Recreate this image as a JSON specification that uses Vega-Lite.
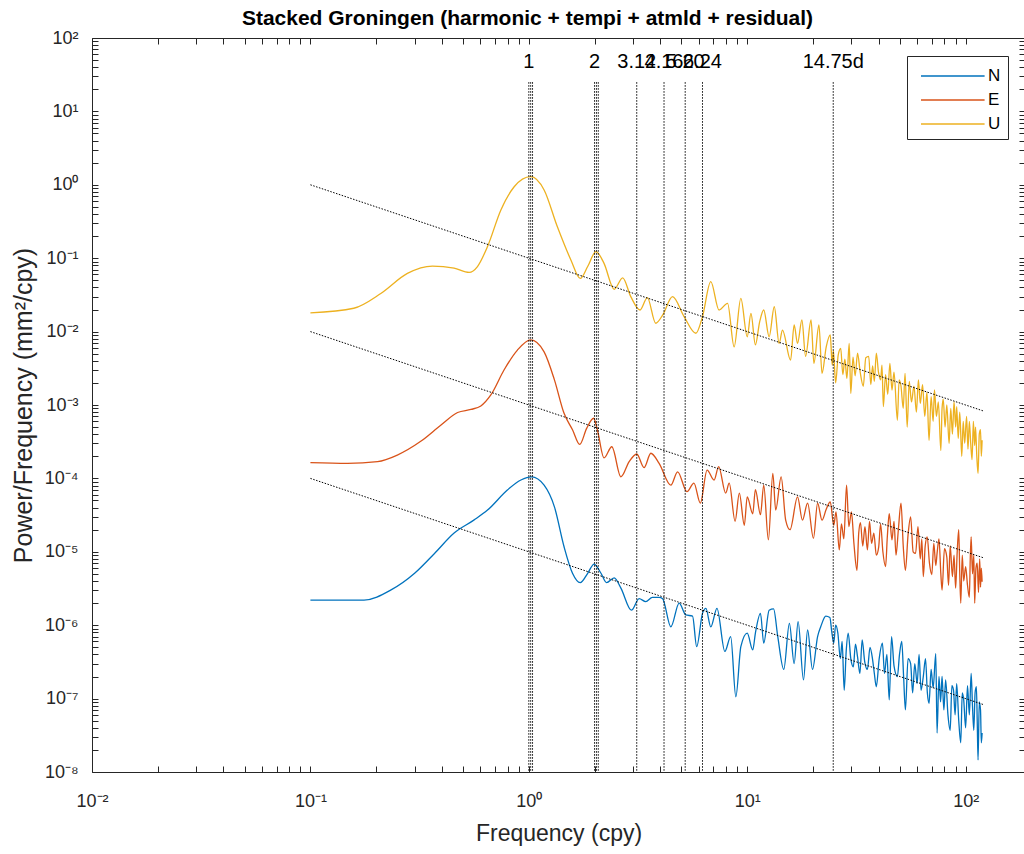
{
  "$schema": "https://vega.github.io/schema/vega-lite/v6.json",
  "width": 933,
  "height": 734,
  "autosize": {"type": "none"},
  "padding": {"left": 92, "top": 38, "right": 0, "bottom": 82},
  "background": "white",
  "title": {"text": "Stacked Groningen (harmonic + tempi + atmld + residual)", "font": "Liberation Sans", "fontSize": 21, "fontWeight": "bold", "color": "#000000", "anchor": "middle", "dx": -31, "offset": 0},
  "config": {
    "view": {"stroke": null},
    "axis": {"domainColor": "#262626", "tickColor": "#262626", "labelColor": "#262626", "titleColor": "#262626", "labelFont": "Liberation Sans", "titleFont": "Liberation Sans", "labelFontSize": 18, "titleFontSize": 23, "titleFontWeight": "normal", "grid": false, "tickSize": -6, "domainWidth": 1, "tickWidth": 1, "labelOverlap": false, "labelFlush": false}
  },
  "datasets": {
    "spectra": [
      {"f": 0.1, "p": 1.8e-2, "c": "U"}, {"f": 0.158, "p": 2.08e-2, "c": "U"}, {"f": 0.21, "p": 3.3e-2, "c": "U"}, {"f": 0.278, "p": 6.2e-2, "c": "U"}, {"f": 0.362, "p": 7.8e-2, "c": "U"}, {"f": 0.455, "p": 7.3e-2, "c": "U"}, {"f": 0.533, "p": 6.4e-2, "c": "U"}, {"f": 0.582, "p": 7.7e-2, "c": "U"}, {"f": 0.647, "p": 0.144, "c": "U"}, {"f": 0.745, "p": 0.454, "c": "U"}, {"f": 0.857, "p": 0.94, "c": "U"}, {"f": 1.02, "p": 1.29, "c": "U"}, {"f": 1.175, "p": 0.85, "c": "U"}, {"f": 1.35, "p": 0.27, "c": "U"}, {"f": 1.56, "p": 0.094, "c": "U"}, {"f": 1.72, "p": 0.053, "c": "U"}, {"f": 1.86, "p": 0.077, "c": "U"}, {"f": 2.03, "p": 0.123, "c": "U"}, {"f": 2.21, "p": 0.085, "c": "U"}, {"f": 2.46, "p": 0.0377, "c": "U"}, {"f": 2.69, "p": 0.054, "c": "U"}, {"f": 2.93, "p": 0.03, "c": "U"}, {"f": 3.23, "p": 0.0197, "c": "U"}, {"f": 3.49, "p": 0.029, "c": "U"}, {"f": 3.81, "p": 0.013, "c": "U"}, {"f": 4.1, "p": 0.0168, "c": "U"}, {"f": 4.55, "p": 0.03, "c": "U"}, {"f": 5.14, "p": 0.016, "c": "U"}, {"f": 5.82, "p": 0.0095, "c": "U"}, {"f": 6.24, "p": 0.016, "c": "U"}, {"f": 6.81, "p": 0.048, "c": "U"}, {"f": 7.43, "p": 0.0197, "c": "U"}, {"f": 8.13, "p": 0.0243, "c": "U"}, {"f": 8.71, "p": 0.0062, "c": "U"}, {"f": 9.35, "p": 0.0284, "c": "U"}, {"f": 10.0, "p": 0.0085, "c": "U"}, {"f": 10.4, "p": 0.0177, "c": "U"}, {"f": 10.9, "p": 0.0066, "c": "U"}, {"f": 11.4, "p": 0.0136, "c": "U"}, {"f": 11.9, "p": 0.0197, "c": "U"}, {"f": 12.6, "p": 0.0085, "c": "U"}, {"f": 13.3, "p": 0.0218, "c": "U"}, {"f": 14.0, "p": 0.0069, "c": "U"}, {"f": 14.5, "p": 0.0105, "c": "U"}, {"f": 15.8, "p": 0.0041, "c": "U"}, {"f": 16.4, "p": 0.0123, "c": "U"}, {"f": 17.0, "p": 0.0069, "c": "U"}, {"f": 17.8, "p": 0.0144, "c": "U"}, {"f": 18.5, "p": 0.0046, "c": "U"}, {"f": 19.6, "p": 0.0144, "c": "U"}, {"f": 20.2, "p": 0.0037, "c": "U"}, {"f": 21.3, "p": 0.0123, "c": "U"}, {"f": 22.0, "p": 0.0027, "c": "U"}, {"f": 23.0, "p": 0.0062, "c": "U"},
      {"f": 24.0, "p": 0.009, "c": "U"}, {"f": 24.5, "p": 0.0035, "c": "U"}, {"f": 24.8, "p": 0.0055, "c": "U"}, {"f": 25.4, "p": 0.002, "c": "U"}, {"f": 26.1, "p": 0.0048, "c": "U"}, {"f": 26.8, "p": 0.0059, "c": "U"}, {"f": 27.4, "p": 0.0026, "c": "U"}, {"f": 28.0, "p": 0.0042, "c": "U"}, {"f": 28.6, "p": 0.0023, "c": "U"}, {"f": 29.3, "p": 0.0069, "c": "U"}, {"f": 29.8, "p": 0.00144, "c": "U"}, {"f": 30.5, "p": 0.0045, "c": "U"}, {"f": 31.2, "p": 0.0025, "c": "U"}, {"f": 32.0, "p": 0.0051, "c": "U"}, {"f": 32.9, "p": 0.0028, "c": "U"}, {"f": 34.0, "p": 0.0018, "c": "U"}, {"f": 34.9, "p": 0.0044, "c": "U"}, {"f": 36.0, "p": 0.0046, "c": "U"}, {"f": 36.8, "p": 0.0019, "c": "U"}, {"f": 37.5, "p": 0.0034, "c": "U"}, {"f": 38.2, "p": 0.0021, "c": "U"}, {"f": 39.0, "p": 0.0051, "c": "U"}, {"f": 39.9, "p": 0.0028, "c": "U"}, {"f": 40.8, "p": 0.0022, "c": "U"}, {"f": 41.4, "p": 0.0035, "c": "U"}, {"f": 42.0, "p": 0.00095, "c": "U"}, {"f": 43.0, "p": 0.0026, "c": "U"}, {"f": 44.0, "p": 0.0014, "c": "U"}, {"f": 45.0, "p": 0.0037, "c": "U"}, {"f": 46.0, "p": 0.0016, "c": "U"}, {"f": 47.0, "p": 0.0028, "c": "U"}, {"f": 48.7, "p": 0.00062, "c": "U"}, {"f": 49.6, "p": 0.0022, "c": "U"}, {"f": 50.6, "p": 0.0018, "c": "U"}, {"f": 51.8, "p": 0.0009, "c": "U"}, {"f": 52.8, "p": 0.0027, "c": "U"}, {"f": 54.0, "p": 0.0005, "c": "U"}, {"f": 55.2, "p": 0.0021, "c": "U"}, {"f": 56.5, "p": 0.0011, "c": "U"}, {"f": 58.0, "p": 0.0018, "c": "U"}, {"f": 59.5, "p": 0.0008, "c": "U"}, {"f": 60.8, "p": 0.0022, "c": "U"}, {"f": 62.0, "p": 0.00105, "c": "U"}, {"f": 63.5, "p": 0.0019, "c": "U"}, {"f": 65.0, "p": 0.0007, "c": "U"}, {"f": 66.5, "p": 0.0015, "c": "U"}, {"f": 68.0, "p": 0.00033, "c": "U"}, {"f": 69.5, "p": 0.0013, "c": "U"}, {"f": 71.0, "p": 0.0006, "c": "U"}, {"f": 72.0, "p": 0.0016, "c": "U"}, {"f": 73.5, "p": 0.0007, "c": "U"}, {"f": 75.0, "p": 0.0011, "c": "U"}, {"f": 77.0, "p": 0.00024, "c": "U"}, {"f": 78.0, "p": 0.0009, "c": "U"}, {"f": 79.0, "p": 0.0012, "c": "U"}, {"f": 80.5, "p": 0.0005, "c": "U"}, {"f": 82.0, "p": 0.001, "c": "U"}, {"f": 84.0, "p": 0.0003, "c": "U"}, {"f": 85.5, "p": 0.0009, "c": "U"}, {"f": 87.0, "p": 0.0004, "c": "U"}, {"f": 88.5, "p": 0.0011, "c": "U"}, {"f": 90.0, "p": 0.0005, "c": "U"}, {"f": 91.0, "p": 0.00095, "c": "U"}, {"f": 92.5, "p": 0.00035, "c": "U"}, {"f": 94.0, "p": 0.0008, "c": "U"}, {"f": 96.0, "p": 0.0002, "c": "U"}, {"f": 97.5, "p": 0.0006, "c": "U"}, {"f": 99.0, "p": 0.0003, "c": "U"}, {"f": 101, "p": 0.0007, "c": "U"}, {"f": 102.5, "p": 0.00025, "c": "U"}, {"f": 104, "p": 0.0006, "c": "U"}, {"f": 105.5, "p": 0.0003, "c": "U"}, {"f": 107, "p": 0.00018, "c": "U"}, {"f": 108.5, "p": 0.0006, "c": "U"}, {"f": 110, "p": 0.00028, "c": "U"}, {"f": 111, "p": 0.0005, "c": "U"}, {"f": 112.5, "p": 0.0002, "c": "U"}, {"f": 114, "p": 0.000117, "c": "U"}, {"f": 115.5, "p": 0.0004, "c": "U"}, {"f": 117, "p": 0.00046, "c": "U"}, {"f": 118, "p": 0.0002, "c": "U"}, {"f": 119, "p": 0.00033, "c": "U"},
      {"f": 0.1, "p": 1.64e-4, "c": "E"}, {"f": 0.148, "p": 1.6e-4, "c": "E"}, {"f": 0.203, "p": 1.69e-4, "c": "E"}, {"f": 0.25, "p": 2.08e-4, "c": "E"}, {"f": 0.32, "p": 3.2e-4, "c": "E"}, {"f": 0.395, "p": 5.3e-4, "c": "E"}, {"f": 0.472, "p": 7.9e-4, "c": "E"}, {"f": 0.543, "p": 8.7e-4, "c": "E"}, {"f": 0.603, "p": 9.7e-4, "c": "E"}, {"f": 0.67, "p": 1.37e-3, "c": "E"}, {"f": 0.77, "p": 3.0e-3, "c": "E"}, {"f": 0.887, "p": 5.6e-3, "c": "E"}, {"f": 1.02, "p": 7.7e-3, "c": "E"}, {"f": 1.175, "p": 5.3e-3, "c": "E"}, {"f": 1.31, "p": 2.2e-3, "c": "E"}, {"f": 1.45, "p": 7.7e-4, "c": "E"}, {"f": 1.585, "p": 4.6e-4, "c": "E"}, {"f": 1.71, "p": 2.9e-4, "c": "E"}, {"f": 1.84, "p": 4.8e-4, "c": "E"}, {"f": 1.98, "p": 6.6e-4, "c": "E"}, {"f": 2.06, "p": 4.6e-4, "c": "E"}, {"f": 2.21, "p": 1.9e-4, "c": "E"}, {"f": 2.4, "p": 2.7e-4, "c": "E"}, {"f": 2.64, "p": 1.05e-4, "c": "E"}, {"f": 2.88, "p": 1.69e-4, "c": "E"}, {"f": 3.12, "p": 2.15e-4, "c": "E"}, {"f": 3.37, "p": 1.4e-4, "c": "E"}, {"f": 3.62, "p": 2.2e-4, "c": "E"}, {"f": 3.95, "p": 1.6e-4, "c": "E"}, {"f": 4.47, "p": 8.1e-5, "c": "E"}, {"f": 4.8, "p": 1.23e-4, "c": "E"}, {"f": 5.3, "p": 6.6e-5, "c": "E"}, {"f": 5.7, "p": 8.6e-5, "c": "E"}, {"f": 6.1, "p": 4.6e-5, "c": "E"}, {"f": 6.55, "p": 1.3e-4, "c": "E"}, {"f": 7.05, "p": 9.5e-5, "c": "E"}, {"f": 7.4, "p": 1.45e-4, "c": "E"}, {"f": 7.97, "p": 6.3e-5, "c": "E"}, {"f": 8.27, "p": 8.6e-5, "c": "E"}, {"f": 8.8, "p": 2.6e-5, "c": "E"}, {"f": 9.2, "p": 6.3e-5, "c": "E"}, {"f": 9.7, "p": 2.3e-5, "c": "E"}, {"f": 10.0, "p": 5.6e-5, "c": "E"}, {"f": 10.6, "p": 3.3e-5, "c": "E"}, {"f": 10.9, "p": 7.0e-5, "c": "E"}, {"f": 11.5, "p": 3.2e-5, "c": "E"}, {"f": 11.9, "p": 8.1e-5, "c": "E"}, {"f": 12.5, "p": 1.45e-5, "c": "E"}, {"f": 13.1, "p": 1.17e-4, "c": "E"}, {"f": 13.5, "p": 3.7e-5, "c": "E"}, {"f": 14.3, "p": 1.05e-4, "c": "E"}, {"f": 15.0, "p": 2.7e-5, "c": "E"}, {"f": 15.7, "p": 2.0e-5, "c": "E"}, {"f": 17.0, "p": 5.6e-5, "c": "E"}, {"f": 17.9, "p": 2.7e-5, "c": "E"}, {"f": 18.9, "p": 4.6e-5, "c": "E"}, {"f": 20.1, "p": 1.53e-5, "c": "E"}, {"f": 21.0, "p": 4.6e-5, "c": "E"}, {"f": 22.0, "p": 2.7e-5, "c": "E"}, {"f": 23.0, "p": 3.8e-5, "c": "E"},
      {"f": 24.0, "p": 4.8e-5, "c": "E"}, {"f": 24.9, "p": 2.3e-5, "c": "E"}, {"f": 25.5, "p": 3.5e-5, "c": "E"}, {"f": 26.4, "p": 1.06e-5, "c": "E"}, {"f": 27.0, "p": 2.4e-5, "c": "E"}, {"f": 27.7, "p": 1.5e-5, "c": "E"}, {"f": 28.5, "p": 8.1e-5, "c": "E"}, {"f": 29.2, "p": 2.2e-5, "c": "E"}, {"f": 30.0, "p": 3.5e-5, "c": "E"}, {"f": 30.8, "p": 1.3e-5, "c": "E"}, {"f": 31.8, "p": 5.6e-6, "c": "E"}, {"f": 32.4, "p": 1.8e-5, "c": "E"}, {"f": 33.0, "p": 2.5e-5, "c": "E"}, {"f": 33.8, "p": 1.2e-5, "c": "E"}, {"f": 34.6, "p": 2.2e-5, "c": "E"}, {"f": 35.5, "p": 1.06e-5, "c": "E"}, {"f": 36.3, "p": 2.6e-5, "c": "E"}, {"f": 37.1, "p": 1.3e-5, "c": "E"}, {"f": 38.0, "p": 1.8e-5, "c": "E"}, {"f": 39.0, "p": 9.0e-6, "c": "E"}, {"f": 40.0, "p": 1.17e-5, "c": "E"}, {"f": 40.8, "p": 2.4e-5, "c": "E"}, {"f": 41.8, "p": 1.0e-5, "c": "E"}, {"f": 43.0, "p": 6.3e-6, "c": "E"}, {"f": 43.8, "p": 1.6e-5, "c": "E"}, {"f": 44.7, "p": 3.3e-5, "c": "E"}, {"f": 46.0, "p": 1.45e-5, "c": "E"}, {"f": 47.0, "p": 2.6e-5, "c": "E"}, {"f": 48.0, "p": 9.0e-6, "c": "E"}, {"f": 49.2, "p": 2.0e-5, "c": "E"}, {"f": 50.6, "p": 4.6e-5, "c": "E"}, {"f": 51.8, "p": 1.2e-5, "c": "E"}, {"f": 53.0, "p": 5.6e-6, "c": "E"}, {"f": 54.5, "p": 1.7e-5, "c": "E"}, {"f": 56.0, "p": 3.0e-5, "c": "E"}, {"f": 57.5, "p": 1.0e-5, "c": "E"}, {"f": 59.0, "p": 9.5e-6, "c": "E"}, {"f": 60.5, "p": 2.2e-5, "c": "E"}, {"f": 62.0, "p": 8.0e-6, "c": "E"}, {"f": 63.0, "p": 1.5e-5, "c": "E"}, {"f": 64.0, "p": 4.6e-6, "c": "E"}, {"f": 65.3, "p": 1.2e-5, "c": "E"}, {"f": 66.7, "p": 1.6e-5, "c": "E"}, {"f": 68.3, "p": 7.0e-6, "c": "E"}, {"f": 70.0, "p": 4.9e-6, "c": "E"}, {"f": 71.5, "p": 1.3e-5, "c": "E"}, {"f": 73.0, "p": 6.5e-6, "c": "E"}, {"f": 74.0, "p": 9.5e-6, "c": "E"}, {"f": 75.5, "p": 1.5e-5, "c": "E"}, {"f": 77.0, "p": 5.0e-6, "c": "E"}, {"f": 78.0, "p": 3.0e-6, "c": "E"}, {"f": 80.0, "p": 1.1e-5, "c": "E"}, {"f": 82.0, "p": 8.5e-6, "c": "E"}, {"f": 83.5, "p": 3.5e-6, "c": "E"}, {"f": 85.0, "p": 1.2e-5, "c": "E"}, {"f": 87.0, "p": 4.6e-6, "c": "E"}, {"f": 88.5, "p": 9.0e-6, "c": "E"}, {"f": 90.0, "p": 3.2e-6, "c": "E"}, {"f": 91.5, "p": 1.0e-5, "c": "E"}, {"f": 93.0, "p": 2.0e-5, "c": "E"}, {"f": 94.0, "p": 5.0e-6, "c": "E"}, {"f": 95.0, "p": 2.0e-6, "c": "E"}, {"f": 96.5, "p": 9.0e-6, "c": "E"}, {"f": 98.0, "p": 4.0e-6, "c": "E"}, {"f": 100, "p": 6.3e-6, "c": "E"}, {"f": 102, "p": 3.5e-6, "c": "E"}, {"f": 104, "p": 2.4e-6, "c": "E"}, {"f": 105, "p": 8.0e-6, "c": "E"}, {"f": 106, "p": 1.6e-5, "c": "E"}, {"f": 107.5, "p": 5.0e-6, "c": "E"}, {"f": 109, "p": 9.0e-6, "c": "E"}, {"f": 110, "p": 2.0e-6, "c": "E"}, {"f": 111.5, "p": 6.0e-6, "c": "E"}, {"f": 113, "p": 7.0e-6, "c": "E"}, {"f": 114.5, "p": 2.8e-6, "c": "E"}, {"f": 116, "p": 8.0e-6, "c": "E"}, {"f": 117, "p": 3.3e-6, "c": "E"}, {"f": 118, "p": 6.0e-6, "c": "E"}, {"f": 119, "p": 3.9e-6, "c": "E"},
      {"f": 0.1, "p": 2.2e-6, "c": "N"}, {"f": 0.176, "p": 2.2e-6, "c": "N"}, {"f": 0.233, "p": 3.0e-6, "c": "N"}, {"f": 0.3, "p": 5.1e-6, "c": "N"}, {"f": 0.37, "p": 9.5e-6, "c": "N"}, {"f": 0.455, "p": 1.8e-5, "c": "N"}, {"f": 0.56, "p": 2.7e-5, "c": "N"}, {"f": 0.647, "p": 3.7e-5, "c": "N"}, {"f": 0.8, "p": 7.0e-5, "c": "N"}, {"f": 0.92, "p": 9.5e-5, "c": "N"}, {"f": 1.03, "p": 1.05e-4, "c": "N"}, {"f": 1.175, "p": 8.1e-5, "c": "N"}, {"f": 1.31, "p": 4.1e-5, "c": "N"}, {"f": 1.45, "p": 1.17e-5, "c": "N"}, {"f": 1.585, "p": 5.1e-6, "c": "N"}, {"f": 1.72, "p": 3.8e-6, "c": "N"}, {"f": 1.86, "p": 5.1e-6, "c": "N"}, {"f": 1.99, "p": 6.8e-6, "c": "N"}, {"f": 2.14, "p": 5.1e-6, "c": "N"}, {"f": 2.27, "p": 3.8e-6, "c": "N"}, {"f": 2.46, "p": 4.4e-6, "c": "N"}, {"f": 2.64, "p": 3.2e-6, "c": "N"}, {"f": 2.95, "p": 1.6e-6, "c": "N"}, {"f": 3.2, "p": 2.3e-6, "c": "N"}, {"f": 3.43, "p": 2.1e-6, "c": "N"}, {"f": 3.68, "p": 2.4e-6, "c": "N"}, {"f": 3.95, "p": 2.4e-6, "c": "N"}, {"f": 4.1, "p": 2.3e-6, "c": "N"}, {"f": 4.47, "p": 9.5e-7, "c": "N"}, {"f": 4.88, "p": 2.0e-6, "c": "N"}, {"f": 5.23, "p": 1.38e-6, "c": "N"}, {"f": 5.62, "p": 1.33e-6, "c": "N"}, {"f": 5.87, "p": 5.1e-7, "c": "N"}, {"f": 6.24, "p": 1.45e-6, "c": "N"}, {"f": 6.47, "p": 1.7e-6, "c": "N"}, {"f": 6.81, "p": 9.5e-7, "c": "N"}, {"f": 7.27, "p": 1.7e-6, "c": "N"}, {"f": 7.9, "p": 4.4e-7, "c": "N"}, {"f": 8.4, "p": 7.0e-7, "c": "N"}, {"f": 8.87, "p": 1.06e-7, "c": "N"}, {"f": 9.35, "p": 5.1e-7, "c": "N"}, {"f": 10.0, "p": 7.8e-7, "c": "N"}, {"f": 10.6, "p": 4.6e-7, "c": "N"}, {"f": 10.9, "p": 7.8e-7, "c": "N"}, {"f": 11.5, "p": 1.45e-6, "c": "N"}, {"f": 11.9, "p": 5.7e-7, "c": "N"}, {"f": 12.6, "p": 1.6e-6, "c": "N"}, {"f": 13.2, "p": 1.67e-6, "c": "N"}, {"f": 13.8, "p": 7.0e-7, "c": "N"}, {"f": 14.7, "p": 2.5e-7, "c": "N"}, {"f": 15.6, "p": 1.06e-6, "c": "N"}, {"f": 16.4, "p": 3.0e-7, "c": "N"}, {"f": 17.1, "p": 1.12e-6, "c": "N"}, {"f": 18.1, "p": 1.8e-7, "c": "N"}, {"f": 18.9, "p": 8.6e-7, "c": "N"}, {"f": 19.9, "p": 2.5e-7, "c": "N"}, {"f": 21.0, "p": 7.0e-7, "c": "N"}, {"f": 21.7, "p": 9.5e-7, "c": "N"}, {"f": 22.9, "p": 1.33e-6, "c": "N"},
      {"f": 23.9, "p": 1.27e-6, "c": "N"}, {"f": 24.4, "p": 8.0e-7, "c": "N"}, {"f": 24.9, "p": 5.7e-7, "c": "N"}, {"f": 25.4, "p": 1.0e-6, "c": "N"}, {"f": 26.0, "p": 7.8e-7, "c": "N"}, {"f": 26.7, "p": 3.5e-7, "c": "N"}, {"f": 27.2, "p": 6.0e-7, "c": "N"}, {"f": 27.8, "p": 1.3e-7, "c": "N"}, {"f": 28.4, "p": 4.5e-7, "c": "N"}, {"f": 29.0, "p": 7.8e-7, "c": "N"}, {"f": 29.8, "p": 3.5e-7, "c": "N"}, {"f": 30.6, "p": 2.7e-7, "c": "N"}, {"f": 31.3, "p": 5.5e-7, "c": "N"}, {"f": 32.0, "p": 3.7e-7, "c": "N"}, {"f": 32.8, "p": 2.2e-7, "c": "N"}, {"f": 33.6, "p": 6.3e-7, "c": "N"}, {"f": 34.5, "p": 3.2e-7, "c": "N"}, {"f": 35.5, "p": 2.5e-7, "c": "N"}, {"f": 36.5, "p": 5.0e-7, "c": "N"}, {"f": 37.5, "p": 3.4e-7, "c": "N"}, {"f": 38.2, "p": 2.2e-7, "c": "N"}, {"f": 39.0, "p": 1.45e-7, "c": "N"}, {"f": 40.2, "p": 3.5e-7, "c": "N"}, {"f": 41.6, "p": 5.7e-7, "c": "N"}, {"f": 42.5, "p": 2.2e-7, "c": "N"}, {"f": 43.6, "p": 4.0e-7, "c": "N"}, {"f": 44.7, "p": 9.6e-8, "c": "N"}, {"f": 45.8, "p": 7.0e-7, "c": "N"}, {"f": 47.0, "p": 2.8e-7, "c": "N"}, {"f": 48.7, "p": 2.0e-7, "c": "N"}, {"f": 49.8, "p": 4.0e-7, "c": "N"}, {"f": 51.0, "p": 6.0e-7, "c": "N"}, {"f": 52.0, "p": 2.0e-7, "c": "N"}, {"f": 53.0, "p": 7.0e-8, "c": "N"}, {"f": 54.5, "p": 3.5e-7, "c": "N"}, {"f": 56.0, "p": 3.0e-7, "c": "N"}, {"f": 57.2, "p": 1.2e-7, "c": "N"}, {"f": 58.5, "p": 3.0e-7, "c": "N"}, {"f": 60.0, "p": 1.6e-7, "c": "N"}, {"f": 61.2, "p": 4.0e-7, "c": "N"}, {"f": 62.5, "p": 1.3e-7, "c": "N"}, {"f": 64.0, "p": 2.0e-7, "c": "N"}, {"f": 65.5, "p": 3.5e-7, "c": "N"}, {"f": 66.8, "p": 1.2e-7, "c": "N"}, {"f": 68.0, "p": 8.6e-8, "c": "N"}, {"f": 69.5, "p": 2.5e-7, "c": "N"}, {"f": 71.0, "p": 1.4e-7, "c": "N"}, {"f": 73.0, "p": 4.1e-7, "c": "N"}, {"f": 74.0, "p": 3.4e-8, "c": "N"}, {"f": 75.5, "p": 2.0e-7, "c": "N"}, {"f": 76.8, "p": 9.0e-8, "c": "N"}, {"f": 78.0, "p": 2.0e-7, "c": "N"}, {"f": 79.5, "p": 7.0e-8, "c": "N"}, {"f": 81.0, "p": 1.8e-7, "c": "N"}, {"f": 83.0, "p": 6.0e-8, "c": "N"}, {"f": 85.0, "p": 3.7e-8, "c": "N"}, {"f": 86.5, "p": 1.5e-7, "c": "N"}, {"f": 88.0, "p": 1.3e-7, "c": "N"}, {"f": 89.5, "p": 6.0e-8, "c": "N"}, {"f": 91.0, "p": 1.6e-7, "c": "N"}, {"f": 93.0, "p": 5.0e-8, "c": "N"}, {"f": 95.0, "p": 2.5e-8, "c": "N"}, {"f": 96.5, "p": 1.2e-7, "c": "N"}, {"f": 98.0, "p": 9.6e-8, "c": "N"}, {"f": 100, "p": 4.0e-8, "c": "N"}, {"f": 102, "p": 1.5e-7, "c": "N"}, {"f": 104, "p": 6.0e-8, "c": "N"}, {"f": 106, "p": 2.2e-7, "c": "N"}, {"f": 107.5, "p": 8.0e-8, "c": "N"}, {"f": 109, "p": 3.7e-8, "c": "N"}, {"f": 110.5, "p": 1.2e-7, "c": "N"}, {"f": 112, "p": 1.45e-7, "c": "N"}, {"f": 113, "p": 5.0e-8, "c": "N"}, {"f": 114, "p": 1.46e-8, "c": "N"}, {"f": 115.5, "p": 9.0e-8, "c": "N"}, {"f": 117, "p": 7.0e-8, "c": "N"}, {"f": 118, "p": 2.5e-8, "c": "N"}, {"f": 119, "p": 3.4e-8, "c": "N"}
    ],
    "refs": [
      {"f": 0.1, "p": 1.0, "g": "U"}, {"f": 120, "p": 8.33e-4, "g": "U"},
      {"f": 0.1, "p": 1.0e-2, "g": "E"}, {"f": 120, "p": 8.33e-6, "g": "E"},
      {"f": 0.1, "p": 1.0e-4, "g": "N"}, {"f": 120, "p": 8.33e-8, "g": "N"}
    ],
    "periods": [
      {"f": 1.0}, {"f": 1.02}, {"f": 1.04}, {"f": 2.0}, {"f": 2.04}, {"f": 2.08}, {"f": 3.12}, {"f": 4.16}, {"f": 5.2}, {"f": 6.24}, {"f": 24.76}
    ],
    "labels": [
      {"f": 1.0, "label": "1"}, {"f": 2.0, "label": "2"}, {"f": 3.12, "label": "3.12"}, {"f": 4.16, "label": "4.16"}, {"f": 5.2, "label": "5.20"}, {"f": 6.24, "label": "6.24"}, {"f": 24.76, "label": "14.75d"}
    ]
  },
  "layer": [
    {
      "data": {"name": "spectra"},
      "mark": {"type": "line", "strokeWidth": 1.3, "interpolate": "monotone"},
      "encoding": {
        "x": {"field": "f", "type": "quantitative", "scale": {"type": "log", "domain": [0.01, 187], "nice": false},
          "axis": {"orient": "bottom", "title": "Frequency (cpy)", "titlePadding": 12, "labelPadding": 26,
            "values": [0.01,0.02,0.03,0.04,0.05,0.06,0.07,0.08,0.09,0.1,0.2,0.3,0.4,0.5,0.6,0.7,0.8,0.9,1,2,3,4,5,6,7,8,9,10,20,30,40,50,60,70,80,90,100],
            "labelExpr": "abs(log(datum.value)/LN10 - round(log(datum.value)/LN10)) < 0.001 ? '10' + (datum.value < 0.5 ? '⁻' : '') + substring('⁰¹²³⁴⁵⁶⁷⁸⁹', abs(round(log(datum.value)/LN10)), abs(round(log(datum.value)/LN10)) + 1) : ''"}},
        "y": {"field": "p", "type": "quantitative", "scale": {"type": "log", "domain": [1e-8, 100], "nice": false},
          "axis": {"orient": "left", "title": "Power/Frequency (mm²/cpy)", "titleFontSize": 25, "titlePadding": 8, "labelPadding": 20,
            "values": [1e-8,2e-8,3e-8,4e-8,5e-8,6e-8,7e-8,8e-8,9e-8,1e-7,2e-7,3e-7,4e-7,5e-7,6e-7,7e-7,8e-7,9e-7,1e-6,2e-6,3e-6,4e-6,5e-6,6e-6,7e-6,8e-6,9e-6,1e-5,2e-5,3e-5,4e-5,5e-5,6e-5,7e-5,8e-5,9e-5,1e-4,2e-4,3e-4,4e-4,5e-4,6e-4,7e-4,8e-4,9e-4,1e-3,2e-3,3e-3,4e-3,5e-3,6e-3,7e-3,8e-3,9e-3,0.01,0.02,0.03,0.04,0.05,0.06,0.07,0.08,0.09,0.1,0.2,0.3,0.4,0.5,0.6,0.7,0.8,0.9,1,2,3,4,5,6,7,8,9,10,20,30,40,50,60,70,80,90,100],
            "labelExpr": "abs(log(datum.value)/LN10 - round(log(datum.value)/LN10)) < 0.001 ? '10' + (datum.value < 0.5 ? '⁻' : '') + substring('⁰¹²³⁴⁵⁶⁷⁸⁹', abs(round(log(datum.value)/LN10)), abs(round(log(datum.value)/LN10)) + 1) : ''"}},
        "color": {"field": "c", "type": "nominal", "scale": {"domain": ["N", "E", "U"], "range": ["#0072BD", "#D95319", "#EDB120"]},
          "legend": {"title": null, "orient": "none", "legendX": 815, "legendY": 18, "symbolType": "M-1,0H4.3", "symbolSize": 576, "symbolStrokeWidth": 1.5, "symbolOffset": 6, "labelOffset": 42, "labelFontSize": 17, "labelFont": "Liberation Sans", "labelColor": "#000000", "strokeColor": "#262626", "padding": 7, "rowPadding": 3, "fillColor": "white"}}
      }
    },
    {
      "data": {"name": "refs"},
      "mark": {"type": "line", "color": "#000000", "strokeWidth": 1, "strokeDash": [1.5, 1.5]},
      "encoding": {
        "x": {"field": "f", "type": "quantitative", "axis": {"orient": "top", "labels": false, "title": null,
          "values": [0.01,0.02,0.03,0.04,0.05,0.06,0.07,0.08,0.09,0.1,0.2,0.3,0.4,0.5,0.6,0.7,0.8,0.9,1,2,3,4,5,6,7,8,9,10,20,30,40,50,60,70,80,90,100]}},
        "y": {"field": "p", "type": "quantitative", "axis": {"orient": "right", "labels": false, "title": null,
          "values": [1e-8,2e-8,3e-8,4e-8,5e-8,6e-8,7e-8,8e-8,9e-8,1e-7,2e-7,3e-7,4e-7,5e-7,6e-7,7e-7,8e-7,9e-7,1e-6,2e-6,3e-6,4e-6,5e-6,6e-6,7e-6,8e-6,9e-6,1e-5,2e-5,3e-5,4e-5,5e-5,6e-5,7e-5,8e-5,9e-5,1e-4,2e-4,3e-4,4e-4,5e-4,6e-4,7e-4,8e-4,9e-4,1e-3,2e-3,3e-3,4e-3,5e-3,6e-3,7e-3,8e-3,9e-3,0.01,0.02,0.03,0.04,0.05,0.06,0.07,0.08,0.09,0.1,0.2,0.3,0.4,0.5,0.6,0.7,0.8,0.9,1,2,3,4,5,6,7,8,9,10,20,30,40,50,60,70,80,90,100]}},
        "detail": {"field": "g", "type": "nominal"}
      }
    },
    {
      "data": {"name": "periods"},
      "mark": {"type": "rule", "color": "#000000", "strokeWidth": 1, "strokeDash": [1.5, 1.5]},
      "encoding": {
        "x": {"field": "f", "type": "quantitative", "axis": null},
        "y": {"datum": 25, "type": "quantitative", "axis": null},
        "y2": {"datum": 1e-8}
      }
    },
    {
      "data": {"name": "labels"},
      "mark": {"type": "text", "font": "Liberation Sans", "fontSize": 20, "color": "#000000", "align": "center", "baseline": "middle"},
      "encoding": {
        "x": {"field": "f", "type": "quantitative", "axis": null},
        "y": {"datum": 47, "type": "quantitative", "axis": null},
        "text": {"field": "label"}
      }
    }
  ],
  "resolve": {"axis": {"x": "independent", "y": "independent"}}
}
